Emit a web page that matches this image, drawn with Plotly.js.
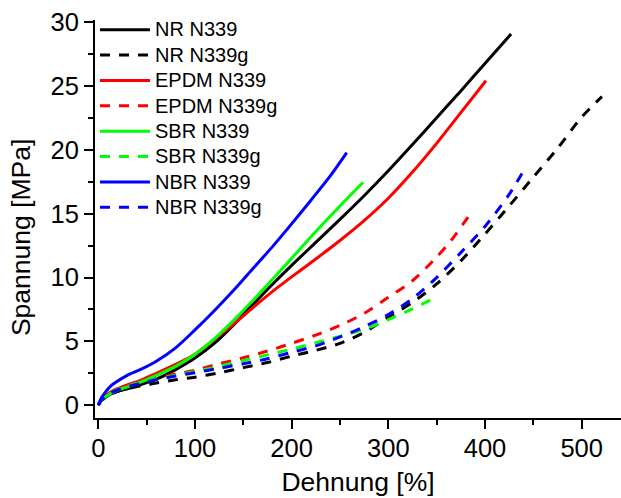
<!DOCTYPE html>
<html>
<head>
<meta charset="utf-8">
<script src="https://cdn.plot.ly/plotly-3.0.1.min.js"></script>
<style>html,body{margin:0;padding:0;background:#fff;}#chart{width:621px;height:498px;}</style>
</head>
<body>
<div id="chart"></div>
<script>
// Series names
const seriesNames = ['NR N339','NR N339g','EPDM N339','EPDM N339g','SBR N339','SBR N339g','NBR N339','NBR N339g'];

// NR N339 (solid black)
const xNR = [0,3,7,12,20,30,45,60,80,100,120,140,160,180,200,225,250,275,300,325,350,375,400,427];
const yNR = [0,0.35,0.6,0.85,1.1,1.3,1.65,2.05,2.8,3.7,4.85,6.3,7.9,9.45,10.95,12.75,14.55,16.4,18.35,20.4,22.5,24.6,26.75,29.05];

// NR N339g (dashed black)
const xNRg = [0,3,7,12,20,30,45,60,80,100,125,150,175,200,225,250,275,300,325,350,375,400,425,450,475,500,521];
const yNRg = [0,0.35,0.6,0.85,1.1,1.3,1.55,1.75,2.0,2.2,2.55,2.95,3.35,3.85,4.3,4.85,5.7,6.9,8.05,9.5,11.3,13.4,15.6,17.85,20.1,22.55,24.15];

// EPDM N339 (solid red)
const xEPDM = [0,3,7,12,20,30,45,60,80,100,120,140,160,180,200,225,250,275,300,325,350,375,401];
const yEPDM = [0,0.4,0.72,1.0,1.3,1.6,2.0,2.5,3.2,4.0,5.15,6.35,7.65,8.9,10.05,11.45,12.9,14.45,16.2,18.25,20.5,22.9,25.4];

// EPDM N339g (dashed red)
const xEPDMg = [0,3,7,12,20,30,45,60,80,100,125,150,175,200,225,250,275,300,325,350,365,383.5];
const yEPDMg = [0,0.42,0.72,1.0,1.3,1.55,1.9,2.15,2.45,2.75,3.25,3.72,4.25,4.85,5.5,6.25,7.2,8.45,9.75,11.6,12.9,14.84];

// SBR N339 (solid green)
const xSBR = [0,3,7,12,20,30,45,60,80,100,120,140,160,180,200,225,250,274];
const ySBR = [0,0.38,0.65,0.9,1.2,1.45,1.85,2.35,3.05,4.0,5.2,6.65,8.2,9.85,11.5,13.6,15.6,17.45];

// SBR N339g (dashed green)
const xSBRg = [0,3,7,12,20,30,45,60,80,100,125,150,175,200,225,250,275,300,325,351.8];
const ySBRg = [0,0.4,0.7,0.97,1.25,1.5,1.8,2.05,2.35,2.65,3.05,3.5,3.95,4.4,4.9,5.4,5.95,6.7,7.55,8.55];

// NBR N339 (solid blue)
const xNBR = [0,3,7,12,20,30,45,60,80,100,120,140,160,180,200,220,240,257];
const yNBR = [0,0.55,1.0,1.45,1.9,2.35,2.85,3.45,4.5,5.9,7.4,9.0,10.7,12.4,14.2,16.05,17.95,19.77];

// NBR N339g (dashed blue)
const xNBRg = [0,3,7,12,20,30,45,60,80,100,125,150,175,200,225,250,275,300,325,350,375,400,425,443];
const yNBRg = [0,0.4,0.68,0.95,1.2,1.45,1.75,2.0,2.3,2.55,2.9,3.25,3.65,4.15,4.65,5.35,6.15,7.1,8.35,10.0,11.95,14.0,16.5,18.75];

// Axis ticks and titles
const xTicks = [0,100,200,300,400,500];
const yTicks = [0,5,10,15,20,25,30];
const xTitle = 'Dehnung [%]';
const yTitle = 'Spannung [MPa]';

const seriesX = [xNR,xNRg,xEPDM,xEPDMg,xSBR,xSBRg,xNBR,xNBRg];
const seriesY = [yNR,yNRg,yEPDM,yEPDMg,ySBR,ySBRg,yNBR,yNBRg];
const colors = ['#000000','#000000','#ff0000','#ff0000','#00ff00','#00ff00','#0000ff','#0000ff'];
const dashes = ['solid','10px,9px','solid','10px,9px','solid','10px,9px','solid','10px,9px'];

const traces = seriesNames.map((n,i)=>({
  x: seriesX[i], y: seriesY[i], name: '<span style="font-size:20px">' + n + '</span>',
  type:'scatter', mode:'lines',
  line:{color:colors[i], width:3, dash:dashes[i], shape:'spline', smoothing:0.8}
}));

const FONT = 'Liberation Sans, Arial, Helvetica, sans-serif';
// blank padding keeps the rotated title centred where the original places it
const PAD = '<span>\u00a0\u00a0\u00a0\u00a0\u00a0</span>';
const layout = {
  width:621, height:498,
  margin:{l:95, r:0, t:20, b:80},
  paper_bgcolor:'#ffffff', plot_bgcolor:'#ffffff',
  font:{family:FONT, color:'#000000'},
  showlegend:true,
  legend:{x:0, y:1.02, xanchor:'left', yanchor:'top', font:{family:FONT, size:17.2, color:'#000'},
          bgcolor:'rgba(0,0,0,0)', borderwidth:0, itemwidth:50, tracegroupgap:0},
  xaxis:{range:[-3.4,540.7], showgrid:false, zeroline:false, showline:true, linecolor:'#000', linewidth:2,
         ticks:'outside', ticklen:9, tickwidth:2, tickcolor:'#000', tickmode:'array', tickvals:xTicks,
         ticktext:xTicks.map(String), tickfont:{family:FONT, size:25.5}, ticklabelstandoff:-3,
         minor:{ticks:'outside', ticklen:5, tickwidth:2, tickcolor:'#000', dtick:50, tick0:0},
         title:{text:xTitle, font:{family:FONT, size:26.5}, standoff:12}},
  yaxis:{range:[-0.99,30.15], showgrid:false, zeroline:false, showline:true, linecolor:'#000', linewidth:2,
         ticks:'outside', ticklen:9, tickwidth:2, tickcolor:'#000', tickmode:'array', tickvals:yTicks,
         ticktext:yTicks.map(String), tickfont:{family:FONT, size:25.5},
         minor:{ticks:'outside', ticklen:5, tickwidth:2, tickcolor:'#000', dtick:2.5, tick0:0},
         title:{text:yTitle + PAD, font:{family:FONT, size:26.5}, standoff:12}}
};

Plotly.newPlot('chart', traces, layout, {displayModeBar:false, staticPlot:true});
</script>
</body>
</html>
